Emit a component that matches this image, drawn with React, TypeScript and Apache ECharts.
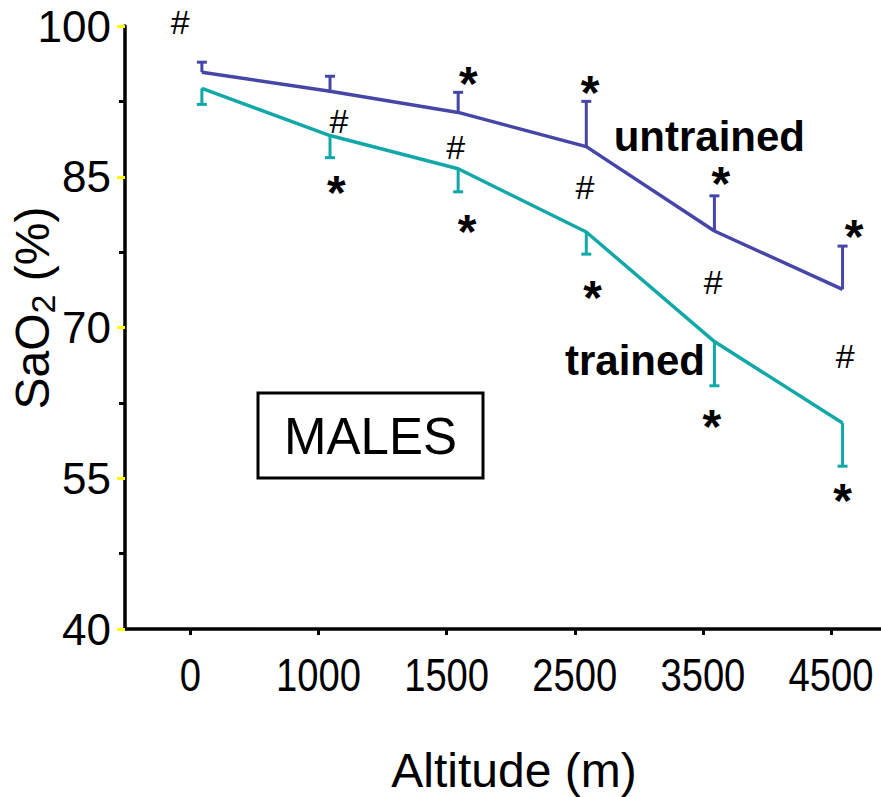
import React, { useEffect, useRef } from "react";
import * as echarts from "echarts";

const ALTITUDES = ["0", "1000", "1500", "2500", "3500", "4500"];
const UNTRAINED = [95.4, 93.5, 91.4, 88.0, 79.6, 73.8];
const UNTRAINED_ERR = [1.0, 1.5, 2.0, 4.5, 3.5, 4.3];
const TRAINED = [93.8, 89.1, 85.8, 79.5, 68.6, 60.5];
const TRAINED_ERR = [1.6, 2.2, 2.3, 2.2, 4.4, 4.3];
const Y_MAJOR = [40, 55, 70, 85, 100];
const Y_MINOR = [47.5, 62.5, 77.5, 92.5];

// annotation positions in data space: [altitude index, SaO2]
const HASH_POS = [
  [-0.17, 100.4],
  [1.07, 90.5],
  [1.98, 88.0],
  [2.99, 84.0],
  [3.99, 74.5],
  [5.02, 67.2],
];
const STAR_POS = [
  [2.08, 95.4],
  [3.03, 94.5],
  [4.05, 85.4],
  [5.09, 80.1],
  [1.05, 84.5],
  [2.07, 80.6],
  [3.05, 74.1],
  [3.98, 61.2],
  [5.0, 53.9],
];
const GROUP_LABELS = ["untrained", "trained"];
const GROUP_LABEL_POS = [
  [3.96, 89.0],
  [3.38, 66.7],
];

const C_UNTRAINED = "#4646A8";
const C_TRAINED = "#12A8A8";
const FONT = "'Liberation Sans', Arial, sans-serif";
const TICK_SHIFT = -0.09;

function errSeries(name: string, means: number[], errs: number[], color: string) {
  return {
    type: "custom",
    name,
    data: means.map((m, i) => [i, m, name === "untrained" ? m + errs[i] : m - errs[i]]),
    renderItem: (params: any, api: any) => {
      const x = api.value(0);
      const p0 = api.coord([x, api.value(1)]);
      const p1 = api.coord([x, api.value(2)]);
      const st = { stroke: color, lineWidth: 3 };
      return {
        type: "group",
        children: [
          { type: "line", shape: { x1: p0[0], y1: p0[1], x2: p1[0], y2: p1[1] }, style: st },
          { type: "line", shape: { x1: p1[0] - 5, y1: p1[1], x2: p1[0] + 5, y2: p1[1] }, style: st },
        ],
      };
    },
    z: 3,
  };
}

function textSeries(pos: number[][], getText: (i: number) => string, font: any, dy: number, scaleX = 1) {
  return {
    type: "custom",
    data: pos,
    clip: false,
    renderItem: (params: any, api: any) => {
      const p = api.coord([api.value(0), api.value(1)]);
      return {
        type: "text",
        x: p[0],
        y: p[1] + dy,
        scaleX,
        style: {
          text: getText(params.dataIndex),
          fill: "#000",
          align: "center",
          verticalAlign: "middle",
          ...font,
        },
      };
    },
    z: 5,
  };
}

export default function App() {
  const ref = useRef<HTMLDivElement>(null);
  useEffect(() => {
    const chart = echarts.init(ref.current!, null, { renderer: "svg" });
    const tickVals = ALTITUDES.map((_, i) => i + TICK_SHIFT);
    chart.setOption({
      animation: false,
      backgroundColor: "#fff",
      grid: { left: 125, right: 0, top: 26, bottom: 168, containLabel: false },
      xAxis: {
        type: "value",
        min: -0.6,
        max: 5.3,
        interval: 5.9,
        splitLine: { show: false },
        axisLine: { show: true, onZero: false, lineStyle: { color: "#000", width: 3.5 } },
        axisTick: { show: true, customValues: tickVals, length: 6, lineStyle: { color: "#000", width: 3 } },
        axisLabel: { show: false },
      },
      yAxis: [
        {
          type: "value",
          min: 40,
          max: 100,
          splitLine: { show: false },
          axisLine: { show: true, onZero: false, lineStyle: { color: "#000", width: 3.5 } },
          axisTick: { show: true, customValues: Y_MAJOR, length: 8, lineStyle: { color: "#FFFF00", width: 3 } },
          axisLabel: { customValues: Y_MAJOR, margin: 14, color: "#000", fontSize: 44, fontFamily: FONT },
        },
        {
          type: "value",
          min: 40,
          max: 100,
          position: "left",
          splitLine: { show: false },
          axisLine: { show: false, onZero: false },
          axisTick: { show: true, customValues: Y_MINOR, length: 6, lineStyle: { color: "#000", width: 3 } },
          axisLabel: { show: false },
        },
      ],
      series: [
        {
          type: "line",
          name: "untrained",
          data: UNTRAINED.map((v, i) => [i, v]),
          showSymbol: false,
          lineStyle: { color: C_UNTRAINED, width: 3.5 },
          itemStyle: { color: C_UNTRAINED },
          z: 2,
        },
        {
          type: "line",
          name: "trained",
          data: TRAINED.map((v, i) => [i, v]),
          showSymbol: false,
          lineStyle: { color: C_TRAINED, width: 3.5 },
          itemStyle: { color: C_TRAINED },
          z: 2,
        },
        errSeries("untrained", UNTRAINED, UNTRAINED_ERR, C_UNTRAINED),
        errSeries("trained", TRAINED, TRAINED_ERR, C_TRAINED),
        textSeries(HASH_POS, () => "#", { fontSize: 34, fontFamily: FONT }, 0),
        textSeries(STAR_POS, () => "*", { fontSize: 48, fontWeight: "bold", fontFamily: FONT, lineHeight: 24 }, 11),
        textSeries(GROUP_LABEL_POS, (i) => GROUP_LABELS[i], { fontSize: 42, fontWeight: "bold", fontFamily: FONT }, 0),
        // x-axis tick labels (narrow digits), placed on the axis through the scale
        textSeries(
          ALTITUDES.map((_, i) => [i + TICK_SHIFT, 40]),
          (i) => ALTITUDES[i],
          { fontSize: 46, fontFamily: FONT },
          46,
          0.83
        ),
      ],
      graphic: [
        {
          type: "rect",
          shape: { x: 258, y: 393, width: 225, height: 85 },
          style: { fill: "#fff", stroke: "#000", lineWidth: 3 },
          z: 10,
        },
        {
          type: "text",
          x: 370.5,
          y: 436,
          style: { text: "MALES", fontSize: 51, fontFamily: FONT, fill: "#000", align: "center", verticalAlign: "middle" },
          z: 11,
        },
        {
          type: "text",
          x: 32,
          y: 308,
          rotation: Math.PI / 2,
          style: {
            text: "{a|SaO}{b|2}{a| (%)}",
            align: "center",
            verticalAlign: "middle",
            fill: "#000",
            rich: {
              a: { fontSize: 48, fontFamily: FONT, fill: "#000", lineHeight: 56 },
              b: { fontSize: 34, fontFamily: FONT, fill: "#000", padding: [22, 0, 0, 0], lineHeight: 56 },
            },
          },
          z: 11,
        },
        {
          type: "text",
          x: 514,
          y: 770,
          style: { text: "Altitude (m)", fontSize: 48, fontFamily: FONT, fill: "#000", align: "center", verticalAlign: "middle" },
          z: 11,
        },
      ],
    });
    return () => chart.dispose();
  }, []);
  return <div ref={ref} style={{ position: "fixed", left: 0, top: 0, width: 881, height: 797 }} />;
}
